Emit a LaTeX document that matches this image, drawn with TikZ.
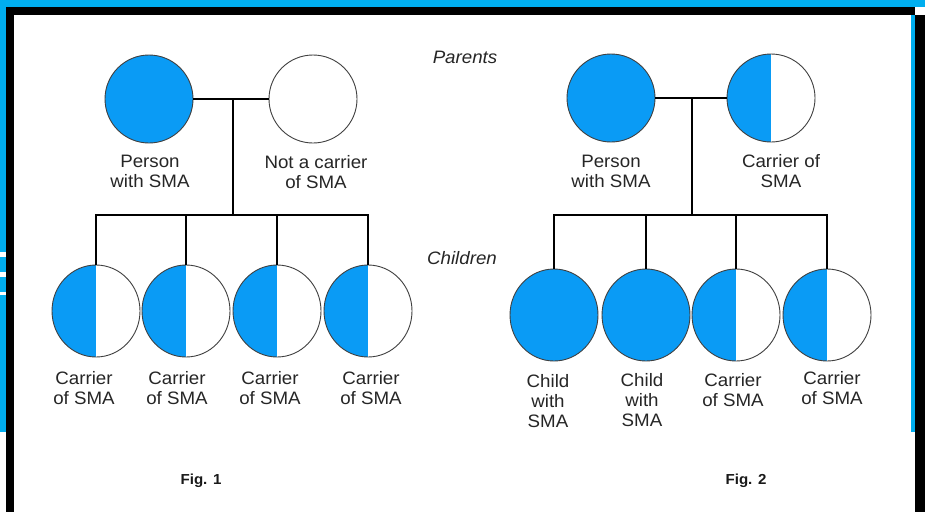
\documentclass[tikz,border=0pt]{standalone}
\usepackage{fontspec}
\setmainfont[FakeStretch=1.04]{Liberation Sans}
\usetikzlibrary{shapes.geometric}

\definecolor{smablue}{HTML}{0A9BF5}
\definecolor{framecyan}{HTML}{00AEEF}

\tikzset{
  person/.style={circle, draw=black!75, line width=0.9pt, minimum size=88pt, inner sep=0pt},
  kid/.style={ellipse, minimum width=88pt, minimum height=92pt},
  affected/.style={person, fill=smablue},
  healthy/.style={person, fill=white},
  carrier/.style={person, fill=white, path picture={
      \fill[smablue] (path picture bounding box.south west) rectangle (path picture bounding box.north);}},
  tie/.style={line width=2.6pt, black},
  lbl/.style={align=center, inner sep=0pt, text=black!85, font=\fontsize{18}{20}\selectfont},
  gen/.style={inner sep=0pt, text=black!85, font=\fontsize{18}{20}\selectfont\itshape},
  figlbl/.style={inner sep=0pt, text=black!90, font=\fontsize{14.5}{18}\selectfont\bfseries}
}

\begin{document}
\begin{tikzpicture}[x=1pt, y=-1pt]
  % frame
  \useasboundingbox (0,0) rectangle (925,512);
  \fill[white] (0,0) rectangle (925,512);
  \fill[framecyan] (0,0) rectangle (925,7);
  \fill[framecyan] (0,0) rectangle (6,432);
  \fill[framecyan] (911,15) rectangle (915,432);
  \fill[white] (0,252) rectangle (6,257);
  \fill[white] (0,272) rectangle (6,277);
  \fill[white] (0,292) rectangle (6,295);
  \fill[black] (6,7) rectangle (915,15);
  \fill[black] (6,7) rectangle (14,512);
  \fill[black] (915,15) rectangle (925,512);

  % Fig. 1
  \node[affected] (f1dad) at (149,99) {};
  \node[healthy] (f1mum) at (313,99) {};
  \coordinate (f1drop) at (233,215);
  \node[carrier, kid] (f1k1) at (96,311) {};
  \node[carrier, kid] (f1k2) at (186,311) {};
  \node[carrier, kid] (f1k3) at (277,311) {};
  \node[carrier, kid] (f1k4) at (368,311) {};
  \draw[tie] (f1dad) -- (f1mum);
  \draw[tie] (f1drop |- f1dad) -- (f1drop);
  \draw[tie] (f1k1.north) |- (f1drop) -| (f1k4.north);
  \draw[tie] (f1k2.north) -- (f1k2 |- f1drop);
  \draw[tie] (f1k3.north) -- (f1k3 |- f1drop);
  \node[lbl] (f1dadl) at (150,171) {Person\\with SMA};
  \node[lbl] (f1muml) at (316,172) {Not a carrier\\of SMA};
  \node[lbl] (f1k1l) at (84,388) {Carrier\\of SMA};
  \node[lbl] (f1k2l) at (177,388) {Carrier\\of SMA};
  \node[lbl] (f1k3l) at (270,388) {Carrier\\of SMA};
  \node[lbl] (f1k4l) at (371,388) {Carrier\\of SMA};
  \node[figlbl] (fig1) at (201,481) {Fig. 1};

  % generations
  \node[gen] (parents) at (465,57) {Parents};
  \node[gen] (children) at (462,258) {Children};

  % Fig. 2
  \node[affected] (f2dad) at (611,98) {};
  \node[carrier] (f2mum) at (771,98) {};
  \coordinate (f2drop) at (692,215);
  \node[affected, kid] (f2k1) at (554,315) {};
  \node[affected, kid] (f2k2) at (646,315) {};
  \node[carrier, kid] (f2k3) at (736,315) {};
  \node[carrier, kid] (f2k4) at (827,315) {};
  \draw[tie] (f2dad) -- (f2mum);
  \draw[tie] (f2drop |- f2dad) -- (f2drop);
  \draw[tie] (f2k1.north) |- (f2drop) -| (f2k4.north);
  \draw[tie] (f2k2.north) -- (f2k2 |- f2drop);
  \draw[tie] (f2k3.north) -- (f2k3 |- f2drop);
  \node[lbl] (f2dadl) at (611,171) {Person\\with SMA};
  \node[lbl] (f2muml) at (781,171) {Carrier of\\SMA};
  \node[lbl] (f2k1l) at (548,401) {Child\\with\\SMA};
  \node[lbl] (f2k2l) at (642,400) {Child\\with\\SMA};
  \node[lbl] (f2k3l) at (733,390) {Carrier\\of SMA};
  \node[lbl] (f2k4l) at (832,388) {Carrier\\of SMA};
  \node[figlbl] (fig2) at (746,481) {Fig. 2};
\end{tikzpicture}
\end{document}
